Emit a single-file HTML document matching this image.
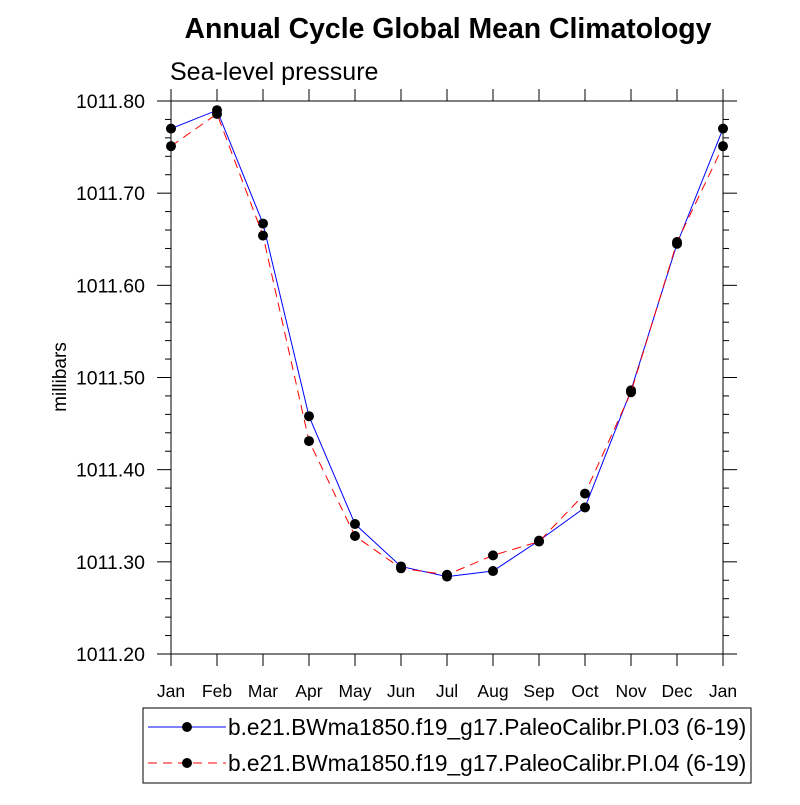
<!DOCTYPE html>
<html><head><meta charset="utf-8"><style>body{margin:0;background:#fff}svg{font-family:"Liberation Sans",sans-serif}</style></head>
<body>
<svg id="chart" width="800" height="800">
<text x="448" y="38" text-anchor="middle" font-size="28.4" font-weight="bold">Annual Cycle Global Mean Climatology</text>
<text x="170" y="80" font-size="25">Sea-level pressure</text>
<text transform="translate(66,377) rotate(-90)" text-anchor="middle" font-size="19">millibars</text>
<g id="axes"></g><g id="series"></g>
<rect x="143" y="708" width="608" height="75" fill="none" stroke="#000"/>
<g>
<line x1="148" y1="727" x2="226" y2="727" stroke="#00f" stroke-width="1"/><circle cx="187" cy="727" r="5" fill="#000"/>
<text x="228" y="735" font-size="22.7">b.e21.BWma1850.f19_g17.PaleoCalibr.PI.03 (6-19)</text></g>
<g>
<line x1="148" y1="763" x2="226" y2="763" stroke="#f00" stroke-dasharray="9,6"/><circle cx="187" cy="763" r="5" fill="#000"/>
<text x="228" y="771" font-size="22.7">b.e21.BWma1850.f19_g17.PaleoCalibr.PI.04 (6-19)</text></g>
</svg>
<script>
const months=["Jan","Feb","Mar","Apr","May","Jun","Jul","Aug","Sep","Oct","Nov","Dec","Jan"];
const pi03=[1011.770,1011.790,1011.667,1011.458,1011.341,1011.295,1011.284,1011.290,1011.323,1011.359,1011.486,1011.645,1011.770];
const pi04=[1011.751,1011.786,1011.654,1011.431,1011.328,1011.293,1011.286,1011.307,1011.322,1011.374,1011.484,1011.647,1011.751];
const yTicks=[1011.20,1011.30,1011.40,1011.50,1011.60,1011.70,1011.80];
const X0=171,X1=723,Y0=654,Y1=101,ymin=1011.2,ymax=1011.8;
const xs=i=>X0+(X1-X0)*i/(months.length-1);
const ys=v=>Y0-(Y0-Y1)*(v-ymin)/(ymax-ymin);
const NS="http://www.w3.org/2000/svg";
function mk(p,t,a){const e=document.createElementNS(NS,t);for(const k in a)e.setAttribute(k,a[k]);p.appendChild(e);return e;}
const ax=document.getElementById('axes');
const frame=mk(ax,'rect',{x:X0,y:Y1,width:X1-X0,height:Y0-Y1,fill:'none',stroke:'#000'});


months.forEach((m,i)=>{const x=xs(i);
mk(ax,'line',{x1:x,y1:Y0,x2:x,y2:Y0+12,stroke:'#000'});
mk(ax,'line',{x1:x,y1:Y1,x2:x,y2:Y1-12,stroke:'#000'});
const t=mk(ax,'text',{x:x,y:697,'text-anchor':'middle','font-size':17.5});t.textContent=m;

});
for(let v=ymin;v<=ymax+1e-9;v+=0.02){const y=ys(v);const maj=Math.abs(Math.round(v*10)/10-v)<1e-6;const L=maj?14:6;
mk(ax,'line',{x1:X0-L,y1:y,x2:X0,y2:y,stroke:'#000'});mk(ax,'line',{x1:X1,y1:y,x2:X1+L,y2:y,stroke:'#000'});}
yTicks.forEach(v=>{const t=mk(ax,'text',{x:145,y:ys(v)+7,'text-anchor':'end','font-size':19.5});t.textContent=v.toFixed(2);

});
const sg=document.getElementById('series');
[[pi03,'#00f',null,'series-pi03'],[pi04,'#f00','9,6','series-pi04']].forEach(([d,c,da,n])=>{
const g=mk(sg,'g',{});


const a={points:d.map((v,i)=>xs(i)+','+ys(v)).join(' '),fill:'none',stroke:c};if(da)a['stroke-dasharray']=da;mk(g,'polyline',a);
d.forEach((v,i)=>{const p=mk(g,'circle',{cx:xs(i),cy:ys(v),r:5,fill:'#000'});

});});
</script>
</body></html>
